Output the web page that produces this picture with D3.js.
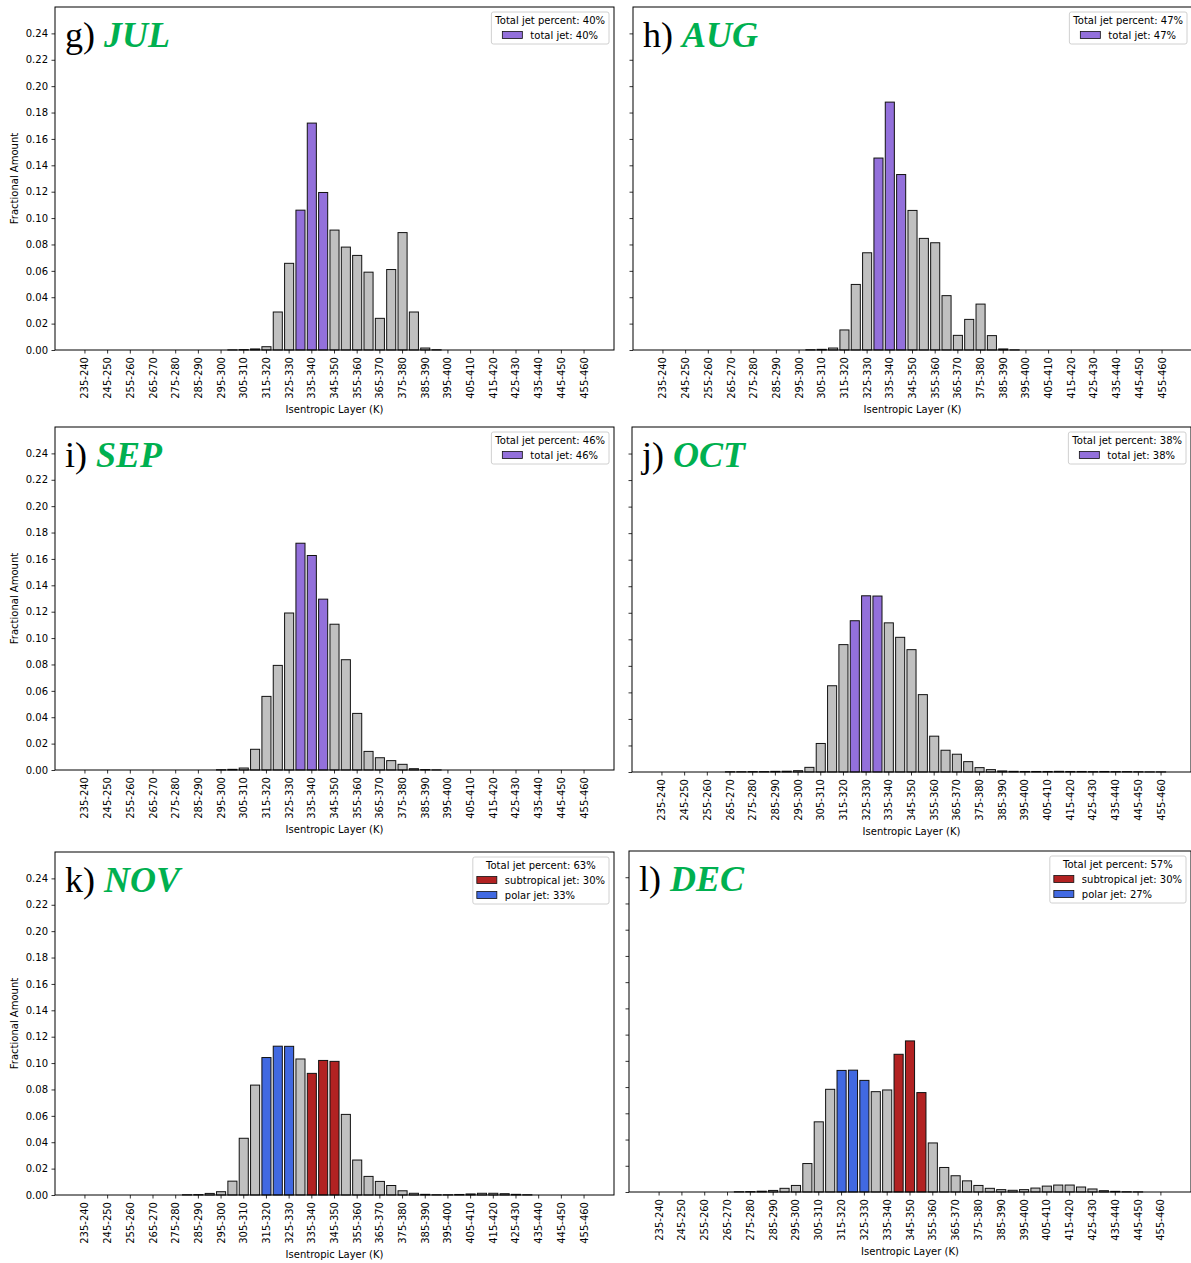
<!DOCTYPE html>
<html>
<head>
<meta charset="utf-8">
<script src="https://cdn.jsdelivr.net/npm/d3@7/dist/d3.min.js"></script>
<style>
  body { margin: 0; background: #fff; }
  svg { display: block; }
  text { font-family: "DejaVu Sans", sans-serif; }
</style>
</head>
<body>
<div id="chart"></div>
<script>
// isentropic layer bins (K)
var bins = ["235-240","240-245","245-250","250-255","255-260","260-265","265-270","270-275","275-280",
  "280-285","285-290","290-295","295-300","300-305","305-310","310-315","315-320","320-325","325-330",
  "330-335","335-340","340-345","345-350","350-355","355-360","360-365","365-370","370-375","375-380",
  "380-385","385-390","390-395","395-400","400-405","405-410","410-415","415-420","420-425","425-430",
  "430-435","435-440","440-445","445-450","450-455","455-460"];

// fractional amount per bin, one list per month
var julVals = [0,0,0,0,0,0,0,0,0,0,0,0,0,0.0001,0.0003,0.0008,0.0025,0.0288,0.0657,0.106,0.172,0.1194,
  0.0909,0.078,0.0717,0.059,0.024,0.061,0.089,0.0288,0.0015,0.0002,0,0,0,0,0,0,0,0,0,0,0,0,0];
var augVals = [0,0,0,0,0,0,0,0,0,0,0,0,0,0.0002,0.0005,0.0015,0.0152,0.0497,0.0737,0.1455,0.1879,0.133,
  0.1058,0.0846,0.0813,0.0412,0.0111,0.0232,0.0348,0.0109,0.0008,0.0001,0,0,0,0,0,0,0,0,0,0,0,0,0];
var sepVals = [0,0,0,0,0,0,0,0,0,0,0,0,0.0002,0.0005,0.0015,0.0157,0.0558,0.0793,0.119,0.1719,0.1626,0.1295,
  0.1105,0.0836,0.0429,0.0141,0.0093,0.0071,0.0043,0.001,0.0003,0.0001,0,0,0,0,0,0,0,0,0,0,0,0,0];
var octVals = [0,0,0,0,0,0,0.0002,0.0002,0.0003,0.0003,0.0005,0.0006,0.001,0.0035,0.0215,0.065,0.096,0.114,
  0.1328,0.1326,0.1124,0.1015,0.0922,0.0583,0.027,0.0164,0.0134,0.0078,0.0033,0.0018,0.0008,0.0005,
  0.0004,0.0004,0.0004,0.0005,0.0004,0.0004,0.0003,0.0004,0.0003,0.0003,0.0002,0.0001,0.0001];
var novVals = [0,0,0,0,0,0,0,0,0,0.0002,0.0003,0.0012,0.0025,0.0105,0.043,0.0833,0.1042,0.1128,0.1127,
  0.1031,0.0922,0.102,0.1013,0.0611,0.0265,0.0141,0.0103,0.0072,0.0032,0.0013,0.0005,0.0002,0.0002,
  0.0004,0.0008,0.0013,0.0013,0.001,0.0005,0.0002,0,0,0,0,0];
var decVals = [0,0,0,0,0,0,0,0.0002,0.0003,0.0006,0.0012,0.0028,0.005,0.0217,0.0535,0.0783,0.0927,0.0929,
  0.0851,0.0765,0.0778,0.105,0.1152,0.0758,0.0374,0.0187,0.0124,0.0085,0.005,0.0028,0.0018,0.0013,
  0.0018,0.003,0.0045,0.0053,0.0053,0.0038,0.0023,0.001,0.0005,0.0002,0.0001,0,0];

// jet layers per month
var julJet = ["330-335","335-340","340-345"];
var augJet = ["330-335","335-340","340-345"];
var sepJet = ["330-335","335-340","340-345"];
var octJet = ["320-325","325-330","330-335"];
var novPolar = ["315-320","320-325","325-330"];
var novSubtrop = ["335-340","340-345","345-350"];
var decPolar = ["315-320","320-325","325-330"];
var decSubtrop = ["340-345","345-350","350-355"];

var months = ["JUL","AUG","SEP","OCT","NOV","DEC"];
var panelLetters = ["g)","h)","i)","j)","k)","l)"];
var totalPct = ["40%","47%","46%","38%","63%","57%"];
var subtropPct = { NOV: "30%", DEC: "30%" };
var polarPct = { NOV: "33%", DEC: "27%" };
var yTicks = [0,0.02,0.04,0.06,0.08,0.10,0.12,0.14,0.16,0.18,0.20,0.22,0.24];

var purple = "#9370DB", red = "#B22222", blue = "#4169E1", grey = "#C0C0C0", green = "#00B050";

var panels = [
  { vals: julVals, jets: [{ name: "total jet", pct: totalPct[0], bins: julJet, color: purple }],
    x0: 55, x1: 614, y0: 7, y1: 350, left: true },
  { vals: augVals, jets: [{ name: "total jet", pct: totalPct[1], bins: augJet, color: purple }],
    x0: 633, x1: 1192, y0: 7, y1: 350, left: false },
  { vals: sepVals, jets: [{ name: "total jet", pct: totalPct[2], bins: sepJet, color: purple }],
    x0: 55, x1: 614, y0: 427, y1: 770, left: true },
  { vals: octVals, jets: [{ name: "total jet", pct: totalPct[3], bins: octJet, color: purple }],
    x0: 632, x1: 1191, y0: 427, y1: 772, left: false },
  { vals: novVals, jets: [{ name: "subtropical jet", pct: subtropPct.NOV, bins: novSubtrop, color: red },
                          { name: "polar jet", pct: polarPct.NOV, bins: novPolar, color: blue }],
    x0: 55, x1: 614, y0: 852, y1: 1195, left: true },
  { vals: decVals, jets: [{ name: "subtropical jet", pct: subtropPct.DEC, bins: decSubtrop, color: red },
                          { name: "polar jet", pct: polarPct.DEC, bins: decPolar, color: blue }],
    x0: 629, x1: 1191, y0: 851, y1: 1192, left: false }
];

var svg = d3.select("#chart").append("svg")
    .attr("width", 1191)
    .attr("height", 1263);

panels.forEach(function(p, k) {
    var x = d3.scaleBand().domain(bins).range([p.x0, p.x1]).paddingInner(0.2).paddingOuter(2.24);
    var y = d3.scaleLinear().domain([0, 0.26]).range([p.y1, p.y0]);
    var g = svg.append("g");

    function barColor(b) {
        for (var j = 0; j < p.jets.length; j++) {
            if (p.jets[j].bins.indexOf(b) >= 0) return p.jets[j].color;
        }
        return grey;
    }

    // bars
    g.selectAll("rect.bar").data(bins).enter().append("rect")
        .attr("class", "bar")
        .attr("x", function(d) { return x(d); })
        .attr("width", x.bandwidth())
        .attr("y", function(d, i) { return y(p.vals[i]); })
        .attr("height", function(d, i) { return y(0) - y(p.vals[i]); })
        .attr("fill", function(d) { return barColor(d); })
        .attr("stroke", "#111")
        .attr("stroke-width", 1);

    // x axis
    var xAxis = g.append("g")
        .attr("transform", "translate(0," + p.y1 + ")")
        .call(d3.axisBottom(x)
            .tickValues(bins.filter(function(d, i) { return i % 2 === 0; }))
            .tickSize(3.5).tickPadding(3.5));
    xAxis.select(".domain").remove();
    xAxis.selectAll("line").attr("stroke", "#000").attr("stroke-width", 0.8);
    xAxis.selectAll("text")
        .attr("transform", "rotate(-90)")
        .attr("x", -7).attr("y", 0).attr("dy", "0.35em")
        .style("text-anchor", "end")
        .style("font-size", "10px")
        .attr("fill", "#000");

    // y axis
    var yAxis = g.append("g")
        .attr("transform", "translate(" + p.x0 + ",0)")
        .call(d3.axisLeft(y).tickValues(yTicks).tickFormat(d3.format(".2f"))
            .tickSize(3.5).tickPadding(3.5));
    yAxis.select(".domain").remove();
    yAxis.selectAll("line").attr("stroke", "#000").attr("stroke-width", 0.8);
    yAxis.selectAll("text").style("font-size", "10px").attr("fill", "#000");
    if (!p.left) yAxis.selectAll("text").remove();

    // frame
    g.append("rect")
        .attr("x", p.x0).attr("y", p.y0)
        .attr("width", p.x1 - p.x0).attr("height", p.y1 - p.y0)
        .attr("fill", "none").attr("stroke", "#000").attr("stroke-width", 1);

    // axis titles
    g.append("text")
        .attr("x", (p.x0 + p.x1) / 2).attr("y", p.y1 + 63)
        .style("text-anchor", "middle").style("font-size", "10px")
        .text("Isentropic Layer (K)");
    if (p.left) {
        g.append("text")
            .attr("transform", "translate(" + (p.x0 - 37) + "," + ((p.y0 + p.y1) / 2) + ") rotate(-90)")
            .style("text-anchor", "middle").style("font-size", "10px")
            .text("Fractional Amount");
    }

    // panel label
    var lab = g.append("text")
        .attr("x", p.x0 + 10).attr("y", p.y0 + 40)
        .style("font-family", "'Liberation Serif', 'Times New Roman', serif")
        .style("font-size", "36px");
    lab.append("tspan").attr("fill", "#000").text(panelLetters[k] + " ");
    lab.append("tspan").attr("fill", green)
        .style("font-weight", "bold").style("font-style", "italic")
        .text(months[k]);

    // legend
    var leg = g.append("g");
    var frame = leg.append("rect").attr("fill", "#fff").attr("stroke", "#d0d0d0")
        .attr("stroke-width", 1).attr("rx", 2);
    var title = leg.append("text").style("font-size", "10px").style("text-anchor", "middle")
        .text("Total jet percent: " + totalPct[k]);
    var entries = p.jets.map(function(jt) {
        var t = leg.append("text").style("font-size", "10px").text(jt.name + ": " + jt.pct);
        return { jt: jt, t: t, w: t.node().getComputedTextLength() };
    });
    var tw = title.node().getComputedTextLength();
    var ew = d3.max(entries, function(e) { return e.w; }) + 28;
    var inner = Math.max(tw, ew);
    var bw = inner + 8;
    var bx = p.x1 - 5 - bw, by = p.y0 + 5;
    var bh = 23 + 15 * (entries.length - 1) + 9;
    frame.attr("x", bx).attr("y", by).attr("width", bw).attr("height", bh);
    title.attr("x", bx + bw / 2).attr("y", by + 8).attr("dy", "0.35em");
    var ex = bx + (bw - ew) / 2;
    entries.forEach(function(e, i) {
        var cy = by + 23 + 15 * i;
        leg.append("rect").attr("x", ex).attr("y", cy - 3.5).attr("width", 20).attr("height", 7)
            .attr("fill", e.jt.color).attr("stroke", "#111").attr("stroke-width", 0.8);
        e.t.attr("x", ex + 28).attr("y", cy).attr("dy", "0.35em");
    });
});
</script>
</body>
</html>
